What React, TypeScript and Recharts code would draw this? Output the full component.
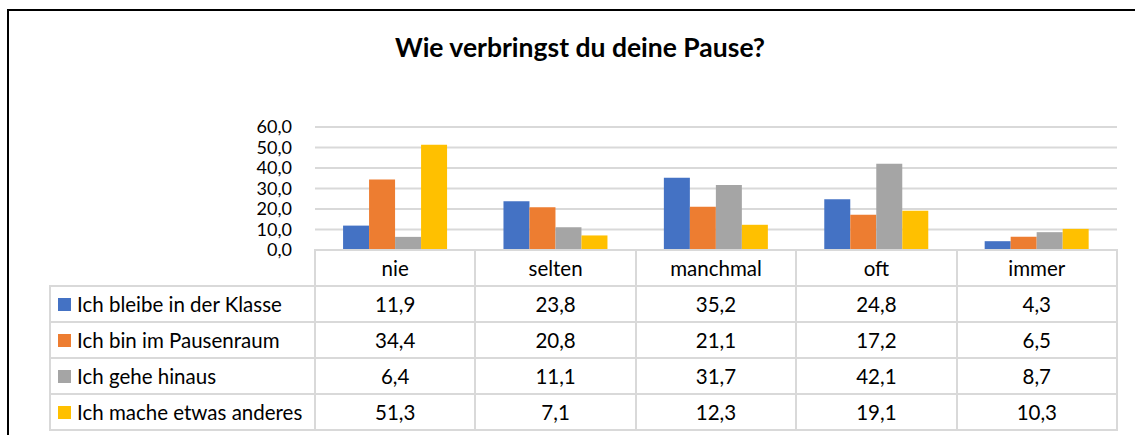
import { BarChart, Bar, XAxis, YAxis, CartesianGrid } from "recharts";

const categories = ["nie", "selten", "manchmal", "oft", "immer"];
const seriesNames = [
  "Ich bleibe in der Klasse",
  "Ich bin im Pausenraum",
  "Ich gehe hinaus",
  "Ich mache etwas anderes",
];
const bleibe = [11.9, 23.8, 35.2, 24.8, 4.3];
const pausenraum = [34.4, 20.8, 21.1, 17.2, 6.5];
const hinaus = [6.4, 11.1, 31.7, 42.1, 8.7];
const anderes = [51.3, 7.1, 12.3, 19.1, 10.3];
const yTicks = [0, 10, 20, 30, 40, 50, 60];

const colors = ["#4472C4", "#ED7D31", "#A5A5A5", "#FFC000"];
const seriesValues = [bleibe, pausenraum, hinaus, anderes];
const keys = ["s0", "s1", "s2", "s3"];

const data = categories.map((c, i) => ({
  name: c,
  s0: bleibe[i],
  s1: pausenraum[i],
  s2: hinaus[i],
  s3: anderes[i],
}));

const fmt = (v: number) => v.toFixed(1).replace(".", ",");

const FONT = "Lato, 'Open Sans', sans-serif";
const W = 1135;
const H = 435;
const plotLeft = 315;
const plotRight = 1117;
const plotTop = 127;
const plotBottom = 250;
const tableLeft = 50;
const rowH = 36;
const colW = (plotRight - plotLeft) / categories.length;
const lineColor = "#d9d9d9";

const cellStyle = (x: number, y: number, w: number): React.CSSProperties => ({
  position: "absolute",
  left: x,
  top: y,
  width: w,
  height: rowH + 2,
  boxSizing: "border-box",
  border: `2px solid ${lineColor}`,
  marginLeft: -1,
  marginTop: -1,
  display: "flex",
  alignItems: "center",
  justifyContent: "center",
  fontSize: 20.5,
  color: "#000",
});

const App = () => {
  return (
    <div
      style={{
        position: "absolute",
        left: 0,
        top: 0,
        width: W,
        height: H,
        overflow: "hidden",
        background: "#fff",
        fontFamily: FONT,
      }}
    >
      <div
        style={{
          position: "absolute",
          left: 7,
          top: 9,
          width: W + 20,
          height: H + 20,
          border: "2px solid #000",
        }}
      />
      <div
        style={{
          position: "absolute",
          left: 0,
          width: 1160,
          top: 31,
          textAlign: "center",
          fontWeight: "bold",
          fontSize: 26.5,
          color: "#000",
        }}
      >
        Wie verbringst du deine Pause?
      </div>
      <div style={{ position: "absolute", left: 0, top: 0 }}>
        <BarChart
          width={W}
          height={H}
          data={data}
          margin={{ top: plotTop, bottom: H - plotBottom, left: plotLeft - 80, right: W - plotRight }}
          barCategoryGap="17.5%"
          barGap={0}
        >
          <CartesianGrid vertical={false} stroke={lineColor} strokeWidth={2} />
          <XAxis dataKey="name" hide />
          <YAxis
            width={80}
            domain={[0, 60]}
            ticks={yTicks}
            tickFormatter={fmt}
            axisLine={false}
            tickLine={false}
            tickMargin={17}
            tick={{ fontSize: 18, fill: "#000", fontFamily: FONT }}
            interval={0}
          />
          {keys.map((k, i) => (
            <Bar key={k} dataKey={k} name={seriesNames[i]} fill={colors[i]} isAnimationActive={false} />
          ))}
        </BarChart>
      </div>
      {categories.map((c, j) => (
        <div key={c} style={cellStyle(plotLeft + j * colW, plotBottom, colW + 2)}>
          {c}
        </div>
      ))}
      {seriesNames.map((s, i) => (
        <div key={s}>
          <div
            style={{
              ...cellStyle(tableLeft, plotBottom + rowH * (i + 1), plotLeft - tableLeft + 2),
              justifyContent: "flex-start",
              paddingLeft: 7,
            }}
          >
            <span
              style={{
                display: "inline-block",
                width: 13,
                height: 13,
                background: colors[i],
                marginRight: 6,
              }}
            />
            {s}
          </div>
          {seriesValues[i].map((v, j) => (
            <div key={j} style={cellStyle(plotLeft + j * colW, plotBottom + rowH * (i + 1), colW + 2)}>
              {fmt(v)}
            </div>
          ))}
        </div>
      ))}
    </div>
  );
};

export default App;
